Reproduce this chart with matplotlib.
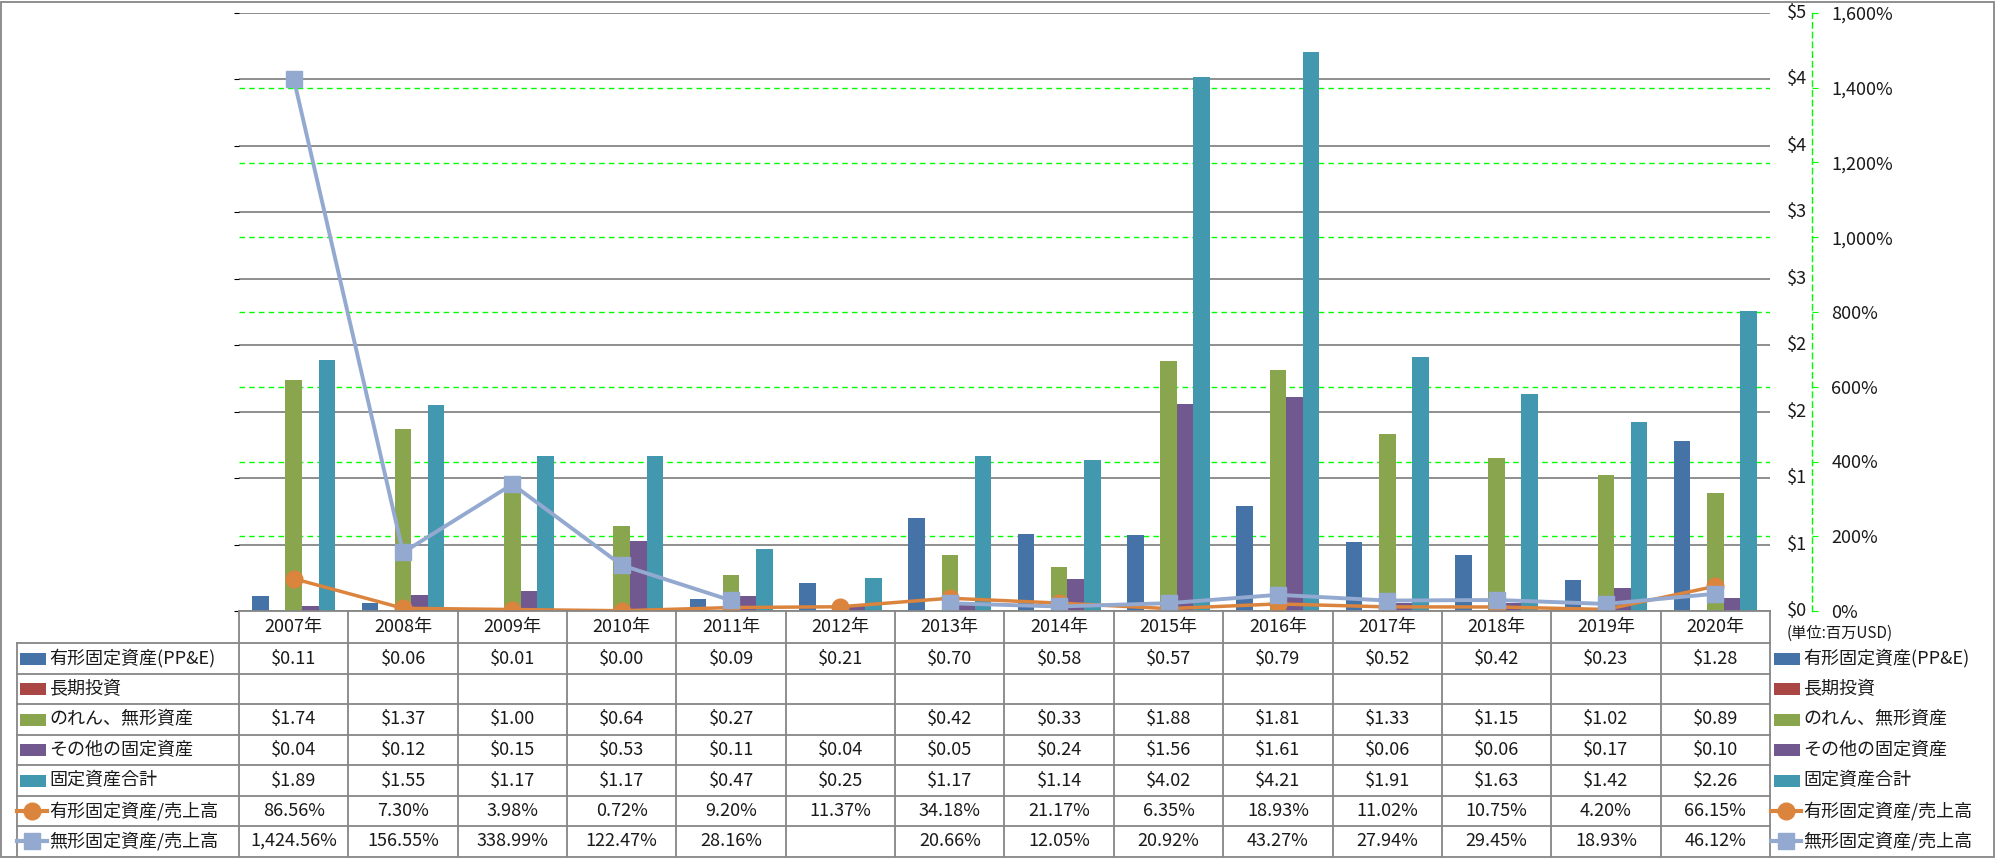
import numpy as np
import matplotlib
matplotlib.use('Agg')
import matplotlib.pyplot as plt
from matplotlib.lines import Line2D
from matplotlib.patches import Rectangle
from matplotlib.transforms import blended_transform_factory
from matplotlib.ticker import FuncFormatter

plt.rcParams['font.family'] = ['Noto Sans CJK JP', 'DejaVu Sans']

# data (百万USD / %)
years = ['2007年', '2008年', '2009年', '2010年', '2011年', '2012年', '2013年',
         '2014年', '2015年', '2016年', '2017年', '2018年', '2019年', '2020年']
nan = np.nan
ppe = [0.11, 0.06, 0.01, 0.00, 0.09, 0.21, 0.70, 0.58, 0.57, 0.79, 0.52, 0.42, 0.23, 1.28]
long_inv = [nan] * 14
goodwill = [1.74, 1.37, 1.00, 0.64, 0.27, nan, 0.42, 0.33, 1.88, 1.81, 1.33, 1.15, 1.02, 0.89]
other_fixed = [0.04, 0.12, 0.15, 0.53, 0.11, 0.04, 0.05, 0.24, 1.56, 1.61, 0.06, 0.06, 0.17, 0.10]
total_fixed = [1.89, 1.55, 1.17, 1.17, 0.47, 0.25, 1.17, 1.14, 4.02, 4.21, 1.91, 1.63, 1.42, 2.26]
ppe_sales = [86.56, 7.30, 3.98, 0.72, 9.20, 11.37, 34.18, 21.17, 6.35, 18.93, 11.02, 10.75, 4.20, 66.15]
intang_sales = [1424.56, 156.55, 338.99, 122.47, 28.16, nan, 20.66, 12.05, 20.92, 43.27, 27.94, 29.45, 18.93, 46.12]

bar_names = ['有形固定資産(PP&E)', '長期投資', 'のれん、無形資産', 'その他の固定資産', '固定資産合計']
bar_series = [ppe, long_inv, goodwill, other_fixed, total_fixed]
bar_colors = ['#4572A7', '#AA4643', '#89A54E', '#71588F', '#4198AF']
line_names = ['有形固定資産/売上高', '無形固定資産/売上高']
line_series = [ppe_sales, intang_sales]
line_colors = ['#DB843D', '#93A9CF']
line_markers = ['o', 's']

usd_ticks = np.arange(0, 4.51, 0.5)
pct_ticks = np.arange(0, 1601, 200)

W, H = 1997, 858
fig = plt.figure(figsize=(W / 100, H / 100), dpi=100)

def fx(px):
    return px / W

def fy(py):
    return 1 - py / H

ax = fig.add_axes([fx(239), fy(611), fx(1770) - fx(239), fy(13) - fy(611)])
x = np.arange(len(years))
ax.set_xlim(-0.5, len(years) - 0.5)
ax.set_ylim(0, usd_ticks[-1])
for s in ax.spines.values():
    s.set_visible(False)
ax.set_xticks([])
ax.set_yticks(usd_ticks)
ax.tick_params(axis='y', left=False, labelleft=False)
ax.set_axisbelow(True)
ax.grid(axis='y', color='#868686', lw=1.3)

# green % gridlines behind bars (top one hidden under the gray top line)
for t in pct_ticks[1:-1]:
    ax.axhline(t / pct_ticks[-1] * usd_ticks[-1], color='#00FF00', lw=1,
               ls=(0, (4, 3)), zorder=0.6)

bw = 1 / 6.6
for k, (vals, col) in enumerate(zip(bar_series, bar_colors)):
    vals = np.array(vals, dtype=float)
    m = ~np.isnan(vals)
    ax.bar(x[m] + (k - 2) * bw, vals[m], bw, color=col, zorder=2)

# $ labels
spine_x = (1812 - 239) / (1770 - 239)
tr = blended_transform_factory(ax.transAxes, ax.transData)
for v in usd_ticks:
    ax.text(spine_x - 0.003, v, '$%d' % int(v + 0.5), transform=tr,
            ha='right', va='center', fontsize=13, color='#1a1a1a')

ax2 = ax.twinx()
ax2.set_ylim(0, pct_ticks[-1])
ax2.set_yticks(pct_ticks)
ax2.yaxis.set_major_formatter(FuncFormatter(lambda v, p: '{:,.0f}%'.format(v)))
for name, s in ax2.spines.items():
    s.set_visible(name == 'right')
ax2.spines['right'].set_position(('axes', spine_x))
ax2.spines['right'].set_color('#00FF00')
ax2.spines['right'].set_linestyle((0, (4, 3)))
ax2.spines['right'].set_linewidth(1)
ax2.tick_params(axis='y', length=4, color='#00FF00', pad=10, labelsize=13,
                labelcolor='#1a1a1a')

for vals, col, mk in zip(line_series, line_colors, line_markers):
    ax2.plot(x, vals, color=col, lw=2.8 if mk == 's' else 2.5, marker=mk,
             markersize=12, markeredgecolor=col, solid_joinstyle='round', zorder=3)

fig.text(fx(1787), fy(633), '(単位:百万USD)', fontsize=11, ha='left', va='center',
         color='#1a1a1a')

# data table
grid_col = '#868686'
rows = [611, 643, 674, 704, 735, 765, 796, 826, 856]
trx = blended_transform_factory(ax.transData, fig.transFigure)

def hline(x0, x1, py):
    fig.add_artist(Line2D([fx(x0), fx(x1)], [fy(py), fy(py)], color=grid_col, lw=1.3))

hline(239, 1770, rows[0])
for py in rows[1:-1]:
    hline(17, 1770, py)
fig.add_artist(Line2D([fx(17), fx(17)], [fy(rows[1]), fy(rows[-1])], color=grid_col, lw=1.3))
for b in np.arange(len(years) + 1) - 0.5:
    fig.add_artist(Line2D([b, b], [fy(rows[0]), fy(rows[-1])], color=grid_col,
                          lw=1.3, transform=trx))

def cy(r):
    return fy((rows[r] + rows[r + 1]) / 2)

for i, yr in enumerate(years):
    fig.text(x[i], cy(0), yr, transform=trx, ha='center', va='center', fontsize=13,
             color='#1a1a1a')

fmt_rows = [(v, '${:.2f}') for v in bar_series] + [(v, '{:,.2f}%') for v in line_series]
for r, (vals, f) in enumerate(fmt_rows):
    for i, v in enumerate(vals):
        if not np.isnan(v):
            fig.text(x[i], cy(r + 1), f.format(v), transform=trx, ha='center',
                     va='center', fontsize=13, color='#1a1a1a')

# legend keys (left column and right side)
names = bar_names + line_names
for r, name in enumerate(names):
    yc = cy(r + 1)
    for kx0, kx1, tx in [(20, 46, 49), (1774, 1800, 1803)]:
        if r < len(bar_names):
            fig.add_artist(Rectangle((fx(kx0), yc - 6 / H), fx(kx1) - fx(kx0), 12 / H,
                                     color=bar_colors[r], lw=0))
        else:
            j = r - len(bar_names)
            fig.add_artist(Line2D([fx(kx0 - 3), fx(kx1 + 1)], [yc, yc],
                                  color=line_colors[j], lw=3))
            fig.add_artist(Line2D([(fx(kx0 - 3) + fx(kx1 + 1)) / 2], [yc],
                                  color=line_colors[j], marker=line_markers[j],
                                  markersize=12, lw=0, markeredgecolor=line_colors[j]))
        fig.text(fx(tx), yc, name, ha='left', va='center', fontsize=13, color='#1a1a1a')

# outer frame
fig.add_artist(Rectangle((0.0005, 0.001), 0.998, 0.997, fill=False, edgecolor=grid_col,
                         lw=1.3, transform=fig.transFigure))

fig.savefig('out.png', dpi=100)
